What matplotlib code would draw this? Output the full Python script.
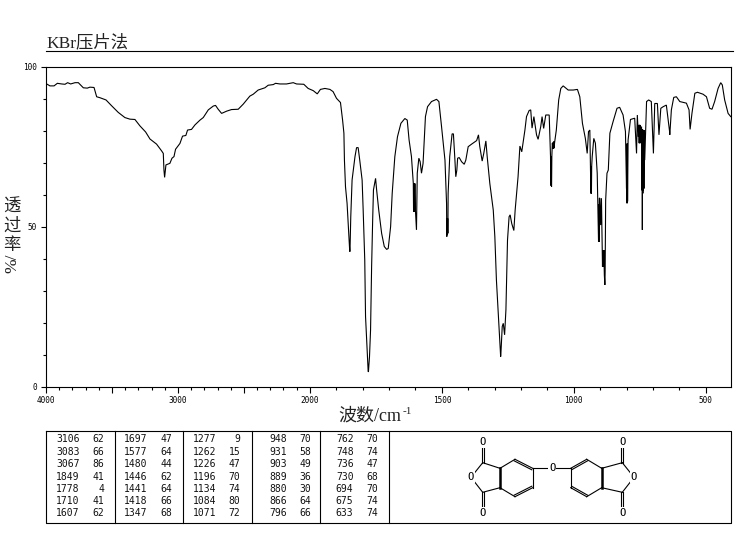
import numpy as np
import matplotlib
matplotlib.use('Agg')
import matplotlib.pyplot as plt

WN = [3995, 3970, 3939, 3914, 3881, 3856, 3836, 3813, 3780, 3755, 3717, 3687, 3667, 3636, 3616, 3591,
      3545, 3503, 3452, 3402, 3364, 3326, 3288, 3245, 3212, 3162, 3124, 3111, 3106, 3101, 3091, 3061,
      3045, 3030, 3018, 2985, 2965, 2940, 2927, 2897, 2871, 2833, 2808, 2770, 2732, 2715, 2695, 2669,
      2631, 2594, 2543, 2505, 2455, 2429, 2392, 2341, 2316, 2278, 2260, 2227, 2177, 2126, 2101, 2046,
      2013, 1987, 1972, 1960, 1943, 1924, 1912, 1899, 1884, 1876, 1871, 1869, 1865, 1859, 1852, 1849,
      1848, 1845, 1840, 1829, 1823, 1817, 1811, 1802, 1798, 1792, 1789, 1783, 1779, 1778, 1774, 1770,
      1766, 1762, 1759, 1751, 1747, 1739, 1728, 1718, 1709, 1703, 1694, 1688, 1678, 1668, 1655, 1640,
      1631, 1624, 1615, 1608, 1607, 1606, 1605, 1604, 1603, 1602, 1601, 1600, 1596, 1593, 1587, 1582,
      1577, 1571, 1562, 1554, 1539, 1520, 1511, 1501, 1488, 1482, 1481, 1480, 1479, 1478, 1477, 1476,
      1470, 1461, 1456, 1451, 1447, 1443, 1440, 1434, 1425, 1415, 1409, 1400, 1387, 1368, 1361, 1356,
      1347, 1341, 1333, 1328, 1318, 1305, 1299, 1293, 1286, 1280, 1277, 1276, 1271, 1267, 1262, 1257,
      1251, 1245, 1241, 1235, 1227, 1222, 1211, 1204, 1197, 1185, 1179, 1169, 1163, 1158, 1151, 1141,
      1135, 1125, 1120, 1114, 1106, 1093, 1088, 1087, 1086, 1085, 1084, 1083, 1081, 1079, 1078, 1077,
      1076, 1075, 1072, 1066, 1057, 1049, 1040, 1021, 1002, 986, 977, 967, 956, 949, 944, 939,
      935, 934, 933, 932, 930, 924, 918, 911, 908, 906, 905, 904, 903, 901, 898, 895,
      891, 890, 889, 888, 887, 886, 884, 882, 881, 879, 874, 869, 863, 851, 836, 826, 813, 804,
      800, 799, 798, 797, 796, 794, 785, 769, 762, 759, 755, 753, 752, 751, 750, 749, 747, 743,
      742, 741, 740, 739, 738, 737, 736, 735, 734, 733, 731, 724, 716, 706, 698, 693, 683, 677,
      670, 661, 649, 637, 636, 635, 630, 621, 611, 598, 573, 563, 559, 552, 541, 531, 510, 497,
      485, 476, 466, 453, 443, 437, 428, 415, 405]
TRANS = [94.7, 94.1, 94.1, 94.9, 94.7, 94.6, 95.1, 94.7, 95.1, 95.1, 93.5, 93.4, 93.7, 93.6, 90.7, 90.4,
         89.7, 87.9, 85.8, 84.2, 83.7, 83.6, 81.6, 79.7, 77.5, 75.9, 73.8, 73.0, 67.8, 65.5, 69.4, 69.9,
         71.5, 72.0, 74.3, 76.1, 78.4, 78.6, 80.3, 80.5, 81.9, 83.4, 84.2, 86.6, 87.8, 88.0, 86.8, 85.5,
         86.2, 86.7, 86.8, 88.4, 90.9, 91.5, 92.8, 93.5, 94.3, 94.5, 94.9, 94.7, 94.7, 95.1, 94.7, 94.6,
         93.3, 92.6, 91.6, 93.0, 93.3, 93.0, 92.3, 90.2, 88.9, 83.4, 79.3, 70.9, 62.6, 57.4, 47.0, 42.5,
         42.3, 53.2, 64.7, 72.0, 74.8, 74.8, 70.9, 64.7, 55.3, 39.7, 22.0, 11.6, 4.8, 4.8, 9.5, 17.8,
         37.6, 52.2, 61.6, 65.2, 61.6, 55.3, 48.0, 43.9, 43.0, 43.3, 50.1, 60.5, 72.0, 78.2, 82.4, 83.9,
         83.4, 77.2, 72.0, 63.6, 54.8, 63.6, 54.8, 63.6, 54.8, 63.6, 54.8, 55.3, 49.1, 66.8, 71.5, 70.4,
         66.8, 69.9, 84.5, 87.6, 89.2, 89.9, 89.2, 81.4, 70.9, 57.4, 47.0, 52.7, 47.5, 52.7, 48.0, 60.5,
         72.0, 79.1, 79.1, 72.0, 65.7, 67.8, 71.5, 71.7, 70.4, 69.6, 70.9, 75.1, 75.9, 77.0, 78.8, 75.1,
         70.6, 73.0, 76.9, 72.0, 63.6, 55.3, 47.0, 33.4, 23.0, 13.6, 9.5, 10.5, 18.9, 19.9, 16.3, 24.1,
         45.9, 53.2, 53.8, 51.1, 48.9, 55.3, 65.7, 75.3, 73.5, 80.3, 84.5, 86.4, 86.6, 80.9, 84.5, 78.8,
         77.4, 81.4, 84.5, 80.8, 85.0, 85.0, 72.0, 63.0, 72.0, 63.0, 62.6, 72.0, 76.2, 74.5, 76.5, 74.5,
         76.7, 74.6, 76.7, 80.3, 89.7, 93.3, 94.1, 92.8, 92.8, 93.0, 90.7, 82.4, 77.7, 73.0, 79.8, 80.3,
         60.5, 69.0, 60.5, 69.0, 72.0, 77.7, 76.2, 66.8, 54.3, 45.4, 57.0, 45.4, 59.0, 59.0, 50.6, 59.0,
         37.6, 42.8, 37.6, 42.8, 37.6, 42.8, 35.0, 31.9, 36.0, 58.4, 66.8, 67.8, 79.3, 82.9, 87.1, 87.4, 85.0, 79.8,
         62.0, 76.0, 57.4, 76.0, 58.0, 77.2, 83.6, 84.0, 73.0, 85.0, 78.2, 81.9, 76.2, 81.9, 76.2, 81.9, 76.2, 81.4,
         61.5, 80.5, 49.1, 80.5, 60.5, 80.3, 61.5, 80.3, 62.0, 80.3, 70.9, 89.2, 89.7, 89.2, 73.0, 88.6, 88.6, 78.8,
         87.1, 87.6, 88.1, 80.0, 78.8, 80.0, 86.6, 90.5, 90.7, 89.2, 88.7, 86.6, 80.5, 85.5, 91.8, 92.1, 91.5, 90.7,
         87.1, 86.8, 89.2, 93.3, 95.1, 94.4, 89.7, 85.5, 84.5]

x_major = [4000, 3500, 3000, 2500, 2000, 1500, 1000, 500]
x_major_labels = ['4000', '', '3000', '', '2000', '1500', '1000', '500']
x_minor = [w for w in range(3900, 400, -100) if w % 500 != 0]
y_major = [0, 50, 100]
y_minor = [10, 20, 30, 40, 60, 70, 80, 90]

# peak table, one pair of lists per column
peak_wn = [[3106, 3083, 3067, 1849, 1778, 1710, 1607],
           [1697, 1577, 1480, 1446, 1441, 1418, 1347],
           [1277, 1262, 1226, 1196, 1134, 1084, 1071],
           [948, 931, 903, 889, 880, 866, 796],
           [762, 748, 736, 730, 694, 675, 633]]
peak_t = [[62, 66, 86, 41, 4, 41, 62],
          [47, 64, 44, 62, 64, 66, 68],
          [9, 15, 47, 70, 74, 80, 72],
          [70, 58, 49, 36, 30, 64, 66],
          [70, 74, 47, 68, 70, 74, 74]]

W, H = 737, 539
CJK = ['Liberation Serif', 'Noto Sans CJK SC']


def forward(x):
    x = np.asarray(x, dtype=float)
    return np.where(x > 2000, 2000 + (x - 2000) / 2, x)


def inverse(x):
    x = np.asarray(x, dtype=float)
    return np.where(x > 2000, 2000 + (x - 2000) * 2, x)


fig = plt.figure(figsize=(W / 100, H / 100), dpi=100)
fig.patch.set_facecolor('white')

ax = fig.add_axes([46 / W, 1 - 387 / H, 685 / W, 320 / H])
ax.set_xscale('function', functions=(forward, inverse))
ax.set_xlim(4000, 404)
ax.set_ylim(0, 100)
ax.plot(WN, TRANS, color='black', lw=0.8, solid_joinstyle='miter')
ax.set_xticks(x_major, x_major_labels)
ax.set_xticks(x_minor, minor=True)
ax.set_yticks(y_major, [str(v) for v in y_major])
ax.set_yticks(y_minor, minor=True)
ax.tick_params(axis='x', which='major', length=4.5, width=0.8, labelsize=5.6, pad=2)
ax.tick_params(axis='y', which='major', length=3.5, width=0.8, labelsize=5.6, pad=3)
ax.tick_params(axis='both', which='minor', length=2.2, width=0.8)
for lab in ax.get_xticklabels() + ax.get_yticklabels():
    lab.set_family('DejaVu Sans Mono')
for s in ax.spines.values():
    s.set_linewidth(0.8)

# everything outside the plot is placed in pixel coordinates
page = fig.add_axes([0, 0, 1, 1])
page.set_xlim(0, W)
page.set_ylim(H, 0)
page.axis('off')
page.patch.set_alpha(0)

page.text(46, 43, 'KBr压片法', family=CJK, fontsize=12.5, color='#222222', ha='left', va='center')
page.plot([46, 733], [50.5, 50.5], color='black', lw=0.8)

for ch, yy in zip('透过率', [208, 227, 246]):
    page.text(12, yy, ch, family=CJK, fontsize=12.5, color='#222222', ha='center', va='center')
page.text(12, 263, '%/', family='Liberation Serif', fontsize=12.5, color='#222222',
          rotation=90, ha='center', va='center')

page.text(338, 416, '波数/cm', family=CJK, fontsize=13, color='#222222', ha='left', va='center')
page.text(403, 412, '-1', family='Liberation Serif', fontsize=8, color='#222222', ha='left', va='center')

# table frame
page.plot([46, 731, 731, 46, 46], [431, 431, 522.5, 522.5, 431], color='black', lw=0.8)
for xx in [115.3, 183.3, 252.3, 320.3, 389.3]:
    page.plot([xx, xx], [431, 522.5], color='black', lw=0.8)

wn_right = [79.5, 147, 216, 287, 353.5]
t_right = [104, 172.5, 240.5, 311, 378.5]
row_y = [439.5, 451.8, 464, 476.5, 489, 501.3, 513.5]
for c in range(5):
    for r in range(7):
        page.text(wn_right[c], row_y[r], str(peak_wn[c][r]), family='DejaVu Sans Mono', fontsize=7,
                  color='#111111', ha='right', va='center')
        page.text(t_right[c], row_y[r], str(peak_t[c][r]), family='DejaVu Sans Mono', fontsize=7,
                  color='#111111', ha='right', va='center')

# structure drawing
atoms = {
    'o1': (482.7, 442.3), 'c1': (482.7, 462.7), 'o2': (471, 477.3), 'c2': (482.7, 492.3), 'o3': (482.7, 512.7),
    'a1': (500, 468.3), 'a2': (515, 459.3), 'a3': (532.7, 468.3), 'a4': (532.7, 487.7), 'a5': (515, 496.7),
    'a6': (500, 487.7), 'ob': (552.3, 468.3),
    'b1': (570.7, 468.3), 'b2': (586.7, 459.3), 'b3': (601.7, 468.3), 'b4': (601.7, 487.7), 'b5': (586.7, 496.7),
    'b6': (570.7, 487.7),
    'c3': (622.3, 462.7), 'o4': (622.3, 442.3), 'o5': (634, 477.3), 'c4': (622.3, 492.3), 'o6': (622.3, 512.7),
}
single = [('c1', 'o2'), ('o2', 'c2'), ('c1', 'a1'), ('c2', 'a6'), ('a1', 'a2'), ('a3', 'a4'), ('a5', 'a6'),
          ('a3', 'ob'), ('ob', 'b1'), ('b2', 'b3'), ('b4', 'b5'), ('b6', 'b1'), ('b3', 'c3'), ('b4', 'c4'),
          ('c3', 'o5'), ('o5', 'c4')]
double = [('a2', 'a3', -0.9, 1.5), ('a4', 'a5', -0.9, -1.5), ('b1', 'b2', 0.9, 1.5), ('b5', 'b6', 0.9, -1.5)]
carbonyl = [('c1', 'o1'), ('c2', 'o3'), ('c3', 'o4'), ('c4', 'o6')]
thick = [('a1', 'a6'), ('b3', 'b4')]
labelled = ['o1', 'o2', 'o3', 'ob', 'o4', 'o5', 'o6']


def bond(p, q, lw=0.8, off=(0, 0)):
    (x0, y0), (x1, y1) = atoms[p], atoms[q]
    page.plot([x0 + off[0], x1 + off[0]], [y0 + off[1], y1 + off[1]], color='black', lw=lw, zorder=2)


for p, q in single:
    bond(p, q)
for p, q in thick:
    bond(p, q, lw=1.8)
for p, q, dx, dy in double:
    bond(p, q)
    bond(p, q, off=(dx, dy))
for p, q in carbonyl:
    bond(p, q, off=(-1, 0))
    bond(p, q, off=(1, 0))
for name in labelled:
    page.text(atoms[name][0], atoms[name][1], 'O', family='DejaVu Sans Mono', fontsize=7.5, color='black',
              ha='center', va='center', zorder=3, bbox=dict(fc='white', ec='none', pad=0.6))

fig.savefig('out.png', dpi=100)
